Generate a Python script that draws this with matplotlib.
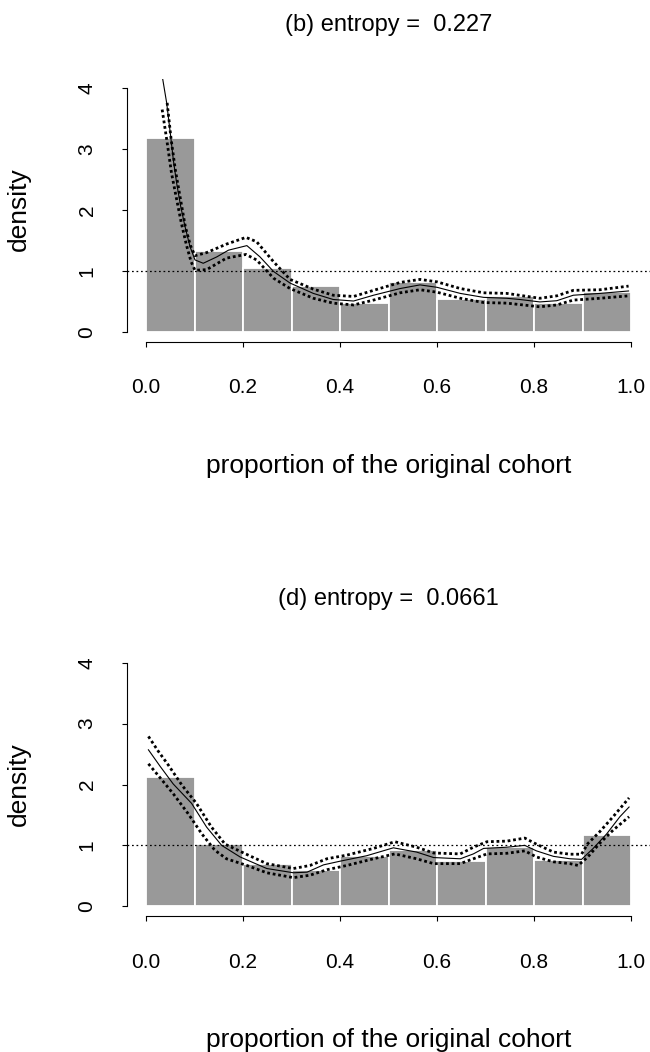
import matplotlib.pyplot as plt

plt.rcParams['font.family'] = ['Liberation Sans', 'DejaVu Sans']

# histogram bins (left edges) and densities
bin_left = [0.0, 0.1, 0.2, 0.3, 0.4, 0.5, 0.6, 0.7, 0.8, 0.9]
dens_b = [3.19, 1.33, 1.04, 0.745, 0.48, 0.82, 0.545, 0.59, 0.48, 0.66]
dens_d = [2.12, 1.02, 0.69, 0.59, 0.83, 0.92, 0.75, 0.97, 0.755, 1.17]

# panel (b): fitted density and pointwise bands
b_fit_x = [0.033, 0.0426, 0.0509, 0.0564, 0.0632, 0.0715, 0.0804, 0.0907, 0.101, 0.118,
           0.146, 0.170, 0.208, 0.235, 0.263, 0.297, 0.345, 0.386, 0.428, 0.469, 0.524,
           0.565, 0.600, 0.648, 0.696, 0.744, 0.771, 0.812, 0.847, 0.881, 0.936, 0.995]
b_fit_y = [4.22, 3.76, 3.21, 2.82, 2.44, 2.06, 1.73, 1.40, 1.18, 1.125,
           1.23, 1.34, 1.415, 1.23, 0.99, 0.80, 0.63, 0.53, 0.505, 0.60, 0.71,
           0.77, 0.73, 0.63, 0.565, 0.55, 0.53, 0.49, 0.51, 0.60, 0.63, 0.67]
b_up_x = [0.0436, 0.0518, 0.0605, 0.0708, 0.081, 0.0914, 0.101, 0.125, 0.166, 0.206,
          0.228, 0.263, 0.297, 0.345, 0.386, 0.428, 0.469, 0.524, 0.565, 0.600, 0.648,
          0.696, 0.744, 0.778, 0.812, 0.847, 0.881, 0.936, 0.995]
b_up_y = [3.76, 3.16, 2.66, 2.19, 1.73, 1.42, 1.25, 1.30, 1.44, 1.55,
          1.48, 1.15, 0.86, 0.70, 0.60, 0.58, 0.68, 0.81, 0.86, 0.82, 0.71,
          0.64, 0.63, 0.59, 0.55, 0.59, 0.68, 0.69, 0.75]
b_lo_x = [0.0333, 0.0436, 0.0525, 0.0628, 0.073, 0.0835, 0.093, 0.101, 0.125, 0.166,
          0.206, 0.228, 0.263, 0.297, 0.345, 0.386, 0.428, 0.469, 0.524, 0.565, 0.600,
          0.648, 0.696, 0.744, 0.778, 0.812, 0.847, 0.881, 0.936, 0.995]
b_lo_y = [3.65, 3.11, 2.61, 2.19, 1.78, 1.42, 1.15, 1.01, 1.02, 1.21,
          1.27, 1.18, 0.88, 0.71, 0.55, 0.47, 0.44, 0.52, 0.64, 0.69, 0.65,
          0.55, 0.48, 0.47, 0.44, 0.41, 0.44, 0.52, 0.55, 0.59]

# panel (d)
d_fit_x = [0.005, 0.029, 0.056, 0.094, 0.125, 0.156, 0.194, 0.249, 0.304, 0.332,
           0.366, 0.400, 0.455, 0.510, 0.558, 0.593, 0.648, 0.675, 0.696, 0.744,
           0.781, 0.805, 0.840, 0.874, 0.898, 0.922, 0.950, 0.977, 0.996]
d_fit_y = [2.57, 2.30, 2.01, 1.69, 1.30, 1.00, 0.81, 0.62, 0.55, 0.56,
           0.68, 0.74, 0.83, 0.96, 0.89, 0.80, 0.78, 0.86, 0.95, 0.97,
           1.00, 0.91, 0.82, 0.78, 0.77, 0.95, 1.19, 1.47, 1.63]
d_up_x = [0.005, 0.025, 0.046, 0.074, 0.104, 0.135, 0.163, 0.204, 0.249, 0.304,
          0.338, 0.373, 0.414, 0.469, 0.513, 0.558, 0.593, 0.648, 0.675, 0.703,
          0.744, 0.781, 0.805, 0.840, 0.874, 0.898, 0.911, 0.935, 0.963, 0.996]
d_up_y = [2.79, 2.55, 2.32, 1.99, 1.69, 1.30, 1.02, 0.865, 0.70, 0.62,
          0.67, 0.78, 0.84, 0.95, 1.06, 0.97, 0.875, 0.86, 0.97, 1.06,
          1.07, 1.12, 1.02, 0.89, 0.855, 0.855, 1.03, 1.22, 1.47, 1.78]
d_lo_x = [0.005, 0.025, 0.056, 0.087, 0.115, 0.142, 0.166, 0.208, 0.249, 0.304,
          0.338, 0.373, 0.414, 0.469, 0.513, 0.558, 0.593, 0.648, 0.675, 0.703,
          0.744, 0.781, 0.805, 0.840, 0.874, 0.891, 0.911, 0.935, 0.963, 0.996]
d_lo_y = [2.34, 2.15, 1.85, 1.52, 1.19, 0.92, 0.78, 0.67, 0.55, 0.47,
          0.51, 0.60, 0.67, 0.78, 0.86, 0.78, 0.70, 0.70, 0.78, 0.86,
          0.87, 0.91, 0.81, 0.73, 0.70, 0.67, 0.81, 1.03, 1.25, 1.47]

titles = ['(b) entropy =  0.227', '(d) entropy =  0.0661']
x_ticks = [0.0, 0.2, 0.4, 0.6, 0.8, 1.0]
x_ticklabels = ['0.0', '0.2', '0.4', '0.6', '0.8', '1.0']
y_ticks = [0, 1, 2, 3, 4]

W, H = 650, 1052
fig = plt.figure(figsize=(W / 100, H / 100), dpi=100)


def fx(px):
    return px / W


def fy(py):
    return 1 - py / H


def panel(top, dens, curves, title):
    # top = pixel row of the upper edge of the plot region
    ax = fig.add_axes([fx(126.6), fy(top + 263), fx(650.4) - fx(126.6), 263 / H])
    ax.bar(bin_left, dens, width=0.1, align='edge', color='#999999',
           edgecolor='white', linewidth=1.3)
    ax.axhline(1, color='black', linewidth=0.9, linestyle=(0, (1.4, 2.2)))
    (cx, cy), (ux, uy), (lx, ly) = curves
    ax.plot(cx, cy, color='black', linewidth=0.8)
    for xx, yy in [(ux, uy), (lx, ly)]:
        ax.plot(xx, yy, color='black', linewidth=2.0,
                linestyle=(0, (1, 1.0)), dash_capstyle='butt')
    ax.set_xlim(-0.04, 1.04)
    ax.set_ylim(-0.16, 4.16)
    for s in ['top', 'right']:
        ax.spines[s].set_visible(False)
    ax.spines['left'].set_bounds(0, 4)
    ax.spines['bottom'].set_bounds(0, 1)
    for s in ['left', 'bottom']:
        ax.spines[s].set_linewidth(0.8)
    ax.set_xticks(x_ticks)
    ax.set_xticklabels(x_ticklabels)
    ax.set_yticks(y_ticks)
    ax.set_yticklabels([str(v) for v in y_ticks], rotation=90, va='center')
    ax.tick_params(axis='both', length=3.6, width=0.8, labelsize=15)
    ax.tick_params(axis='x', pad=23)
    ax.tick_params(axis='y', pad=18)
    fig.text(fx(388.5), fy(top - 54), title, ha='center', va='center', fontsize=17)
    fig.text(fx(19), fy(top + 131), 'density', rotation=90, ha='center',
             va='center', fontsize=19)
    fig.text(fx(388.5), fy(top + 387), 'proportion of the original cohort',
             ha='center', va='center', fontsize=19)
    return ax


panel(78.5, dens_b, [(b_fit_x, b_fit_y), (b_up_x, b_up_y), (b_lo_x, b_lo_y)], titles[0])
panel(653, dens_d, [(d_fit_x, d_fit_y), (d_up_x, d_up_y), (d_lo_x, d_lo_y)], titles[1])

plt.savefig('out.png', dpi=100)
